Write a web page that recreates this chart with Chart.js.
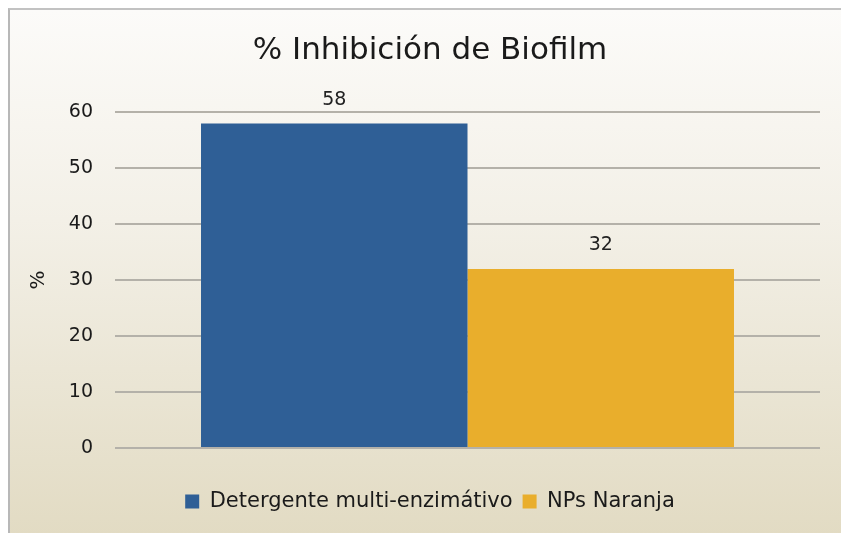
<!DOCTYPE html>
<html>
<head>
<meta charset="utf-8">
<script src="https://cdn.jsdelivr.net/npm/chart.js@4/dist/chart.umd.min.js"></script>
<style>
  html, body { margin: 0; padding: 0; background: #ffffff; }
  body { width: 841px; height: 533px; overflow: hidden; position: relative; }
  /* cadre du graphique : bordure grise en haut et à gauche, dégradé beige */
  #frame {
    position: absolute; left: 8px; top: 8px; width: 900px; height: 560px;
    border-top: 2px solid #c2c2c2; border-left: 2px solid #b8b8b8;
    background: linear-gradient(to bottom, #fcfbf9 0px, #f3f0e7 210px, #e2dbc3 525px, #e2dbc3 100%);
  }
  #chart { display: block; }
</style>
</head>
<body>
<div id="frame"><canvas id="chart" width="831" height="523"></canvas></div>
<script>
// ── Données ──────────────────────────────────────────────
const categories  = [''];
const seriesNames = ['Detergente multi-enzimátivo', 'NPs Naranja'];
const detergente  = [58];
const naranja     = [32];
const yTicks      = [0, 10, 20, 30, 40, 50, 60];

const FONT = "'DejaVu Sans', sans-serif";

// Étiquettes de valeur au-dessus des barres (pas de plugin datalabels dispo)
const valueLabels = {
  id: 'valueLabels',
  afterDatasetsDraw(chart) {
    const ctx = chart.ctx;
    ctx.save();
    ctx.font = '19px ' + FONT;
    ctx.fillStyle = '#222222';
    ctx.textAlign = 'center';
    ctx.textBaseline = 'bottom';
    chart.data.datasets.forEach((ds, i) => {
      chart.getDatasetMeta(i).data.forEach((bar, j) => {
        ctx.fillText(String(ds.data[j]), bar.x, bar.y - 14);
      });
    });
    ctx.restore();
  }
};

new Chart(document.getElementById('chart').getContext('2d'), {
  type: 'bar',
  data: {
    labels: categories,
    datasets: [
      { label: seriesNames[0], data: detergente, backgroundColor: '#2f5f96' },
      { label: seriesNames[1], data: naranja,    backgroundColor: '#e9ae2c' }
    ]
  },
  options: {
    responsive: false,
    animation: false,
    categoryPercentage: 0.756,
    barPercentage: 1.0,
    // gauche/droite asymétriques : titre et légende centrés vers x≈430
    layout: { padding: { top: 22, right: 21, bottom: 11, left: 30 } },
    plugins: {
      title: {
        display: true,
        text: '% Inhibición de Biofilm',
        color: '#1a1a1a',
        font: { family: FONT, size: 31, weight: 'normal' },
        padding: { top: 0, bottom: 43 }
      },
      legend: {
        position: 'bottom',
        labels: {
          color: '#1a1a1a',
          font: { family: FONT, size: 21 },
          boxWidth: 14, boxHeight: 14,
          padding: 10
        }
      },
      tooltip: { enabled: false }
    },
    scales: {
      // axe x invisible : sert seulement d'espace entre barres et légende
      x: {
        display: true,
        grid: { display: false, drawTicks: false },
        border: { display: false },
        ticks: { display: false },
        afterFit: s => { s.height = 33; }
      },
      y: {
        min: 0, max: 60,
        afterBuildTicks: s => { s.ticks = yTicks.map(v => ({ value: v })); },
        afterFit: s => { s.width = 75; },
        border: { display: false },
        grid: { color: '#b4b1a9', lineWidth: 2, drawTicks: false },
        ticks: { color: '#1a1a1a', font: { family: FONT, size: 19 }, padding: 22 },
        title: {
          display: true, text: '%', color: '#1a1a1a',
          font: { family: FONT, size: 20 }, padding: { top: -13, bottom: 0 }
        }
      }
    }
  },
  plugins: [valueLabels]
});
</script>
</body>
</html>
